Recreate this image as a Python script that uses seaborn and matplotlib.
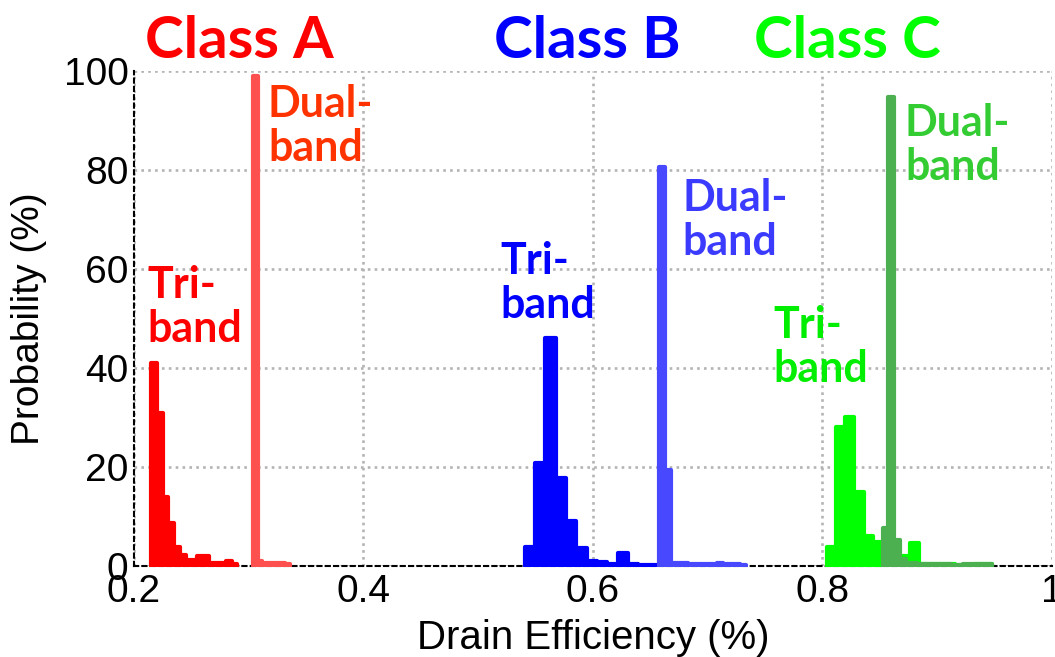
import numpy as np
import pandas as pd
import matplotlib
matplotlib.use("Agg")
import matplotlib.pyplot as plt
import seaborn as sns

# --- data (bin centres in efficiency, heights in %) ---
a_tri_x = [0.2175, 0.2225, 0.2275, 0.2325, 0.2375, 0.2425, 0.2475, 0.2525,
           0.2575, 0.2625, 0.2675, 0.2725, 0.2775, 0.2825, 0.2875]
a_tri_y = [41, 31, 14, 8.7, 3.8, 2.2, 1.2, 1.2, 2.0, 2.0, 0.6, 0.6, 0.6, 1.0, 0.4]

a_dual_x = [0.306, 0.310, 0.314, 0.318, 0.322, 0.326, 0.330, 0.334]
a_dual_y = [99, 1.0, 0.6, 0.6, 0.6, 0.6, 0.6, 0.5]

b_tri_x = [0.545, 0.554, 0.563, 0.572, 0.581, 0.590, 0.599, 0.608, 0.617,
           0.626, 0.635, 0.644, 0.653]
b_tri_y = [3.8, 20.8, 46, 17.8, 9, 3.6, 1.0, 0.8, 0.5, 2.6, 0.5, 0.3, 0.2]

b_dual_x = [0.6605, 0.6655, 0.6705, 0.6755, 0.6805, 0.6855, 0.6905, 0.6955,
            0.7005, 0.7055, 0.7105, 0.7155, 0.7205, 0.7255, 0.7305]
b_dual_y = [80.5, 19.4, 0.6, 0.6, 0.6, 0.5, 0.5, 0.4, 0.4, 0.5, 0.6, 0.5,
            0.4, 0.5, 0.3]

c_tri_x = [0.808, 0.816, 0.824, 0.832, 0.840, 0.848, 0.856, 0.864, 0.872,
           0.880, 0.888, 0.896, 0.904, 0.912, 0.920, 0.928, 0.936, 0.944]
c_tri_y = [3.9, 28, 30, 15, 6, 4.9, 2.0, 1.0, 2.0, 4.6, 0.5, 0.5, 0.4, 0.4,
           0.3, 0.3, 0.5, 0.5]

c_dual_x = [0.855, 0.860, 0.865, 0.870, 0.875, 0.880, 0.885, 0.890, 0.895,
            0.900, 0.905, 0.910, 0.915, 0.920, 0.925, 0.930, 0.935, 0.940, 0.945]
c_dual_y = [7.6, 94.7, 5.2, 1.5, 0.6, 0.6, 0.5, 0.5, 0.5, 0.4, 0.4, 0.4, 0.3,
            0.3, 0.5, 0.5, 0.5, 0.5, 0.5]

x_ticks = [0.2, 0.4, 0.6, 0.8, 1.0]
x_tick_labels = ["0.2", "0.4", "0.6", "0.8", "1"]
y_ticks = [0, 20, 40, 60, 80, 100]

classes = ["Class A", "Class B", "Class C"]

# (x data, y data, bin width, bar colour)
series = [
    (a_tri_x, a_tri_y, 0.005, "#ff0000"),
    (a_dual_x, a_dual_y, 0.004, "#ff5050"),
    (b_tri_x, b_tri_y, 0.009, "#0000ff"),
    (b_dual_x, b_dual_y, 0.005, "#4848ff"),
    (c_tri_x, c_tri_y, 0.008, "#00ff00"),
    (c_dual_x, c_dual_y, 0.005, "#4caf50"),
]

sns.set_style("white")
plt.rcParams["font.family"] = ["Liberation Sans", "DejaVu Sans"]

fig = plt.figure(figsize=(10.55, 6.57), dpi=100)
ax = fig.add_axes([0.127, 0.1385, 0.87, 0.7535])

for xs, ys, w, col in series:
    df = pd.DataFrame({"eff": xs, "prob": ys})
    edges = [x - w / 2 for x in xs] + [xs[-1] + w / 2]
    sns.histplot(data=df, x="eff", weights="prob", bins=edges, element="step",
                 fill=True, color=col, alpha=1, linewidth=3, joinstyle="round",
                 ax=ax, zorder=3)

ax.set_xlim(0.2, 1.0)
ax.set_ylim(0, 100)
ax.set_xticks(x_ticks)
ax.set_xticklabels(x_tick_labels)
ax.set_yticks(y_ticks)
ax.tick_params(axis="both", labelsize=28, direction="in", length=4,
               width=1.2, color="black", labelcolor="black")
ax.tick_params(axis="x", pad=6)
ax.tick_params(axis="y", pad=4)
ax.set_xlabel("Drain Efficiency (%)", fontsize=29, labelpad=6, color="black")
ax.set_ylabel("Probability (%)", fontsize=28, labelpad=12, color="black")

ax.grid(True, color="#b4b4b4", linestyle=(0, (1, 1.6)), linewidth=1.9)
ax.set_axisbelow(True)
for side in ["top", "right"]:
    ax.spines[side].set_visible(False)
for side in ["left", "bottom"]:
    ax.spines[side].set_color("black")
    ax.spines[side].set_linestyle((0, (2, 2)))
    ax.spines[side].set_linewidth(1.5)

# class titles above the axes
title_font = ["Lato", "DejaVu Sans"]
for name, xc, col in zip(classes, [0.292, 0.595, 0.822],
                         ["#ff0000", "#0000ff", "#00ff00"]):
    ax.text(xc, 102.6, name, color=col, fontsize=42, fontweight="bold",
            family=title_font, ha="center", va="baseline", clip_on=False)

# band annotations (y is the baseline of the "band" line)
notes = [
    (0.2113, 45.3, "Tri-\nband", "#ff0000"),
    (0.3168, 81.8, "Dual-\nband", "#ff3300"),
    (0.519, 50.1, "Tri-\nband", "#0000ff"),
    (0.678, 62.8, "Dual-\nband", "#3b3bff"),
    (0.757, 37.2, "Tri-\nband", "#00ee00"),
    (0.872, 78.0, "Dual-\nband", "#33cc33"),
]
for xn, yn, txt, col in notes:
    ax.text(xn, yn, txt, color=col, fontsize=31, fontweight="bold",
            family=title_font, ha="left", va="baseline", linespacing=1.12)

fig.savefig("out.png", dpi=100)
